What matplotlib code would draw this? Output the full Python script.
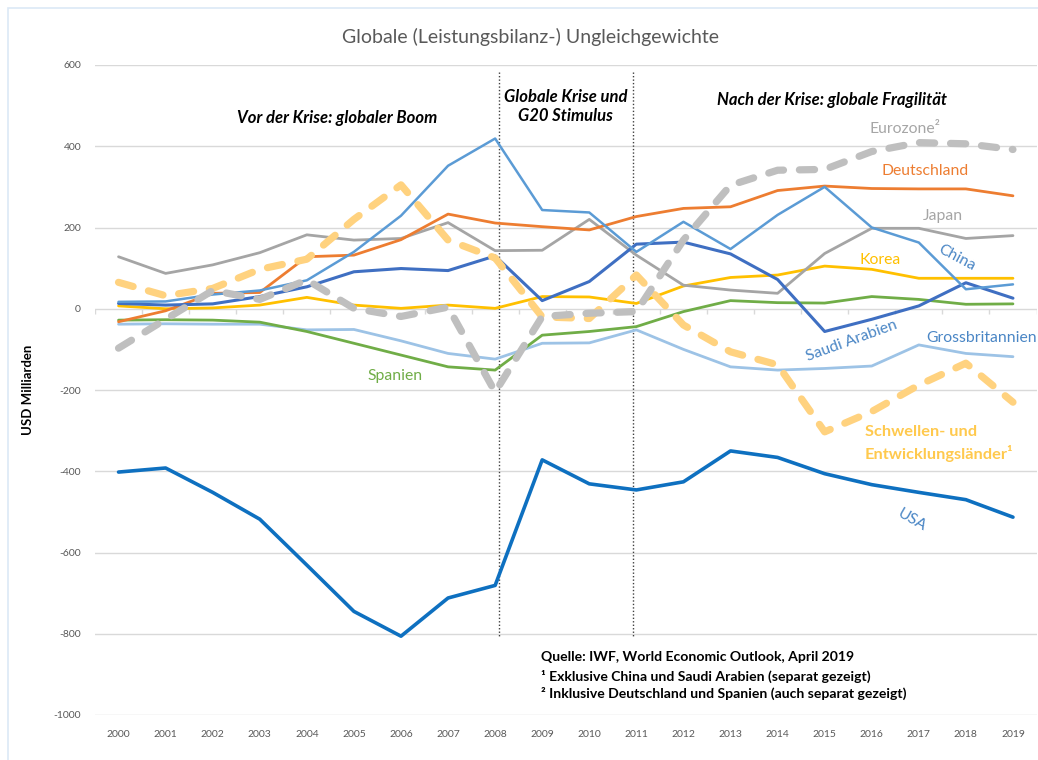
import matplotlib
matplotlib.use('Agg')
import matplotlib.pyplot as plt
from matplotlib.patches import Rectangle

plt.rcParams['font.family'] = ['Lato', 'DejaVu Sans']

years = list(range(2000, 2020))
usa = [-402, -392, -452, -518, -631, -745, -806, -712, -681, -372,
       -431, -446, -426, -350, -366, -406, -433, -452, -470, -513]
china = [17, 18, 35, 45, 70, 140, 229, 352, 419, 243,
         237, 140, 214, 147, 231, 300, 200, 163, 48, 60]
saudi = [13, 9, 12, 30, 54, 91, 99, 94, 130, 20,
         67, 159, 164, 135, 72, -56, -26, 7, 64, 26]
uk = [-38, -37, -38, -38, -52, -51, -79, -110, -124, -85,
      -84, -52, -100, -143, -151, -147, -141, -89, -110, -118]
germany = [-32, -5, 38, 40, 128, 132, 170, 233, 211, 202,
           194, 227, 247, 251, 291, 302, 296, 295, 295, 278]
japan = [128, 87, 108, 138, 182, 169, 173, 212, 143, 144,
         220, 132, 58, 46, 38, 136, 198, 198, 173, 180]
korea = [7, 0, 2, 9, 28, 9, 1, 9, 1, 30,
         29, 13, 56, 77, 83, 105, 97, 75, 75, 75]
spain = [-28, -27, -28, -33, -56, -85, -114, -143, -151, -65,
         -56, -44, -7, 20, 15, 14, 30, 23, 11, 12]
eurozone = [-97, -26, 45, 23, 71, 1, -19, 4, -205, -19,
            -11, -7, 169, 304, 341, 343, 387, 409, 406, 392]
emerging = [65, 32, 50, 97, 122, 220, 305, 169, 125, -20,
            -24, 83, -40, -106, -138, -303, -253, -188, -134, -230]

yticks = list(range(-1000, 601, 200))
title = "Globale (Leistungsbilanz-) Ungleichgewichte"
ylabel = "USD Milliarden"
phase_labels = ["Vor der Krise: globaler Boom", "Globale Krise und\nG20 Stimulus",
                "Nach der Krise: globale Fragilität"]
notes = ["Quelle: IWF, World Economic Outlook, April 2019",
         "¹ Exklusive China und Saudi Arabien (separat gezeigt)",
         "² Inklusive Deutschland und Spanien (auch separat gezeigt)"]

fig = plt.figure(figsize=(10.38, 7.6), dpi=100)
fig.patches.append(Rectangle((8 / 1038, -0.05), 1.1, 1.05 - 8 / 760, transform=fig.transFigure,
                             fill=False, edgecolor='#DCE9F6', linewidth=1.2))
ax = fig.add_axes([95 / 1038, 45 / 760, 941.5 / 1038, 650 / 760])
ax.set_xlim(1999.5, 2019.5)
ax.set_ylim(-1000, 600)

for y in yticks:
    ax.axhline(y, color='#D9D9D9', lw=1.0, zorder=1)
ax.vlines([x + 0.5 for x in years[:-1]] + [1999.5, 2019.5], 0, -12, color='#D9D9D9', lw=1.0, zorder=1)

# phase separators
for xv in (2008.08, 2010.92):
    ax.plot([xv, xv], [582, -806], color='#404040', lw=1.0, ls=(0, (1, 1.5)), zorder=2)

solid = dict(solid_joinstyle='round', solid_capstyle='round', zorder=3)
ax.plot(years, uk, color='#9DC3E6', lw=2.0, **solid)
ax.plot(years, spain, color='#70AD47', lw=2.0, **solid)
ax.plot(years, korea, color='#FFC000', lw=2.0, **solid)
ax.plot(years, japan, color='#A5A5A5', lw=2.0, **solid)
ax.plot(years, germany, color='#ED7D31', lw=2.0, **solid)
ax.plot(years, saudi, color='#3F6FC2', lw=2.2, **solid)
ax.plot(years, china, color='#5B9BD5', lw=1.8, **solid)
ax.plot(years, usa, color='#0E70C0', lw=2.6, **solid)
ax.plot(years, emerging, color='#FFD27F', lw=5.2, ls=(0, (2.1, 2.2)),
        dash_capstyle='round', dash_joinstyle='round', zorder=4)
ax.plot(years, eurozone, color='#BFBFBF', lw=5.2, ls=(0, (2.1, 2.2)),
        dash_capstyle='round', dash_joinstyle='round', zorder=5)

ax.set_xticks(years)
ax.set_xticklabels([str(y) for y in years], fontsize=7.5, color='#595959')
ax.set_yticks(yticks)
ax.set_yticklabels([str(y) for y in yticks], fontsize=7.5, color='#595959')
ax.tick_params(axis='x', length=0, pad=11)
ax.tick_params(axis='y', length=0, pad=10)
for s in ax.spines.values():
    s.set_visible(False)
ax.set_facecolor('none')

fig.text(530 / 1038, 1 - 37 / 760, title, ha='center', va='center', fontsize=14, color='#595959')
fig.text(28 / 1038, 1 - 390 / 760, ylabel, ha='center', va='center', rotation=90,
         fontsize=9.5, fontweight='bold', color='black')

hdr = dict(ha='center', va='center', fontsize=12, fontweight='bold', style='italic', color='black', zorder=6)
ax.text(2004.64, 469, phase_labels[0], **hdr)
ax.text(2009.5, 497, phase_labels[1], linespacing=1.25, **hdr)
ax.text(2015.15, 514, phase_labels[2], **hdr)

lab = dict(ha='center', va='center', fontsize=11.3, zorder=6)
ax.text(2016.70, 442, "Eurozone²", color='#A6A6A6', **lab)
ax.text(2017.13, 339, "Deutschland", color='#ED7D31', **lab)
ax.text(2017.51, 228, "Japan", color='#A5A5A5', **lab)
ax.text(2016.17, 120, "Korea", color='#FFC000', **lab)
ax.text(2017.81, 125, "China", color='#4A86C5', rotation=-28, **lab)
ax.text(2015.58, -80, "Saudi Arabien", color='#4A86C5', rotation=20, **lab)
ax.text(2018.34, -72, "Grossbritannien", color='#4A86C5', **lab)
ax.text(2005.88, -165, "Spanien", color='#70AD47', **lab)
ax.text(2016.86, -521, "USA", color='#4A86C5', rotation=-30, **lab)
ax.text(2015.85, -331, "Schwellen- und\nEntwicklungsländer¹", ha='left', va='center',
        fontsize=11.8, fontweight='bold', color='#FFC94D', linespacing=1.45, zorder=6)

ny = [-858, -904, -946]
for t, y in zip(notes, ny):
    ax.text(2008.97, y, t, ha='left', va='center', fontsize=10.1, fontweight='bold', color='black', zorder=6)

fig.savefig('out.png', dpi=100)
